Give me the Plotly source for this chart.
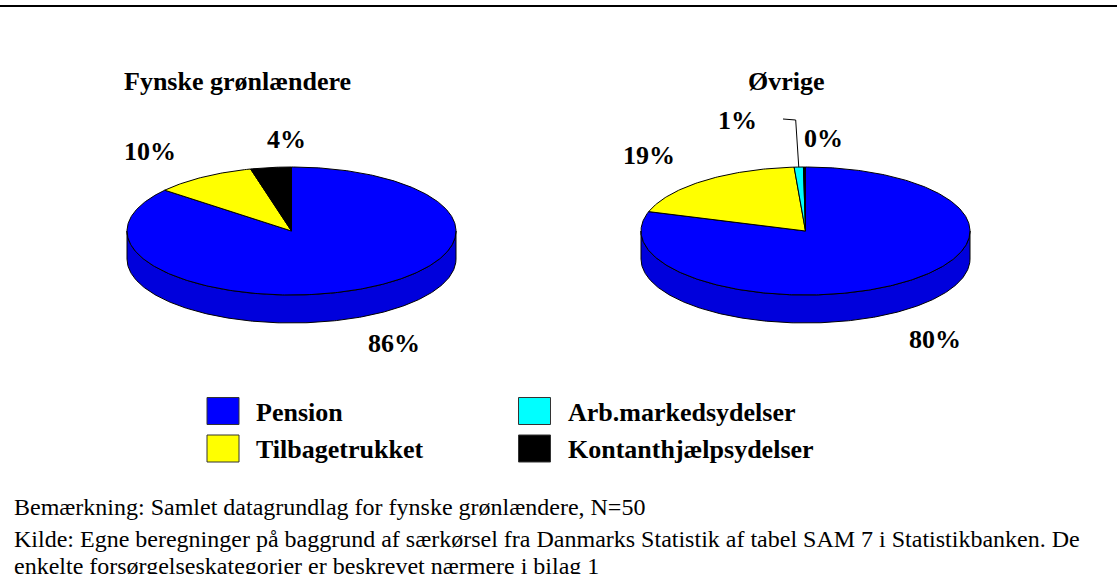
import numpy as np
import plotly.graph_objects as go

# ---------------- data ----------------
categories = ["Pension", "Tilbagetrukket", "Arb.markedsydelser", "Kontanthjælpsydelser"]
colors = ["#0000FF", "#FFFF00", "#00FFFF", "#000000"]
side_colors = ["#0000DC", "#DCDC00", "#00DCDC", "#000000"]
pie_titles = ["Fynske grønlændere", "Øvrige"]
values_fynske = [86.0, 10.0, 0.0, 4.0]
values_ovrige = [79.9, 19.0, 0.9, 0.2]
note_lines = [
    "Bemærkning: Samlet datagrundlag for fynske grønlændere, N=50",
    "Kilde: Egne beregninger på baggrund af særkørsel fra Danmarks Statistik af tabel SAM 7 i Statistikbanken. De",
    "enkelte forsørgelseskategorier er beskrevet nærmere i bilag 1",
]

# ---------------- layout constants (pixel space) ----------------
W, H = 1117, 574
A, B, DEPTH = 164.5, 64.0, 28.0
pie_centers = [(291.5, 231.0), (805.5, 231.0)]
title_pos = [(237.8, 81.0), (786.0, 81.0)]
label_pos = [
    [(394.0, 343.0), (149.5, 151.5), None, (286.7, 139.5)],
    [(935.0, 339.0), (649.0, 155.3), (737.0, 120.0), (823.7, 138.3)],
]
leader_start = (783.0, 119.0)
leader_corner = (795.7, 120.0)
BOLD = dict(family="Liberation Serif", size=26, color="black", weight="bold")
REG = dict(family="Liberation Serif", size=24, color="black")

fig = go.Figure()


def ell(cx, cy, th, dy=0.0):
    return cx + A * np.sin(th), cy - B * np.cos(th) + dy


all_values = [values_fynske, values_ovrige]
annotations = []
shapes = []

for p, vals in enumerate(all_values):
    cx, cy = pie_centers[p]
    v = np.array(vals, dtype=float)
    frac = v / v.sum()
    ends = np.cumsum(frac) * 2 * np.pi
    starts = ends - frac * 2 * np.pi
    # sides (front half visible)
    for i in range(len(v)):
        if frac[i] <= 0:
            continue
        s = max(starts[i], np.pi / 2)
        e = min(ends[i], 3 * np.pi / 2)
        if e <= s:
            continue
        th = np.linspace(s, e, max(3, int((e - s) * 80)))
        xt, yt = ell(cx, cy, th)
        xb, yb = ell(cx, cy, th[::-1], DEPTH)
        fig.add_trace(go.Scatter(
            x=np.concatenate([xt, xb, xt[:1]]), y=np.concatenate([yt, yb, yt[:1]]),
            mode="lines", fill="toself", fillcolor=side_colors[i],
            line=dict(color="black", width=1), hoverinfo="skip", showlegend=False))
    # top slices
    for i in range(len(v)):
        if frac[i] <= 0:
            continue
        th = np.linspace(starts[i], ends[i], max(3, int((ends[i] - starts[i]) * 80)))
        xs, ys = ell(cx, cy, th)
        fig.add_trace(go.Scatter(
            x=np.concatenate([[cx], xs, [cx]]), y=np.concatenate([[cy], ys, [cy]]),
            mode="lines", fill="toself", fillcolor=colors[i],
            line=dict(color="black", width=1), hoverinfo="skip", showlegend=False,
            name=categories[i]))
        lp = label_pos[p][i]
        if lp is not None:
            annotations.append(dict(x=lp[0], y=lp[1], text=f"{round(v[i])}%", showarrow=False,
                                    font=BOLD, xanchor="center", yanchor="middle"))
    # leader line for the small cyan slice on the second pie
    if p == 1:
        mid = (starts[2] + ends[2]) / 2
        ex, ey = ell(cx, cy, mid)
        fig.add_trace(go.Scatter(
            x=[leader_start[0], leader_corner[0], ex], y=[leader_start[1], leader_corner[1], ey],
            mode="lines", line=dict(color="black", width=1), hoverinfo="skip", showlegend=False))
    annotations.append(dict(x=title_pos[p][0], y=title_pos[p][1], text=pie_titles[p], showarrow=False,
                            font=BOLD, xanchor="center", yanchor="middle"))

# legend (2 x 2)
leg_box_x = [207.0, 518.5]
leg_box_y = [397.5, 435.0]
BOX_W, BOX_H = 32.0, 27.0
for i, cat in enumerate(categories):
    col, row = i // 2, i % 2
    x0, y0 = leg_box_x[col], leg_box_y[row]
    shapes.append(dict(type="rect", xref="x", yref="y", x0=x0, x1=x0 + BOX_W, y0=y0, y1=y0 + BOX_H,
                       fillcolor=colors[i], line=dict(color="#333333", width=1)))
    annotations.append(dict(x=x0 + 47, y=y0 + BOX_H / 2 + 1, text=cat, showarrow=False,
                            font=BOLD, xanchor="left", yanchor="middle"))

# top rule
shapes.append(dict(type="line", xref="x", yref="y", x0=0, x1=W, y0=6, y1=6,
                   line=dict(color="black", width=2)))

# notes
note_y = [507.0, 539.0, 566.0]
for t, y in zip(note_lines, note_y):
    annotations.append(dict(x=11.5, y=y, text=t, showarrow=False, font=REG,
                            xanchor="left", yanchor="middle"))

fig.update_layout(
    width=W, height=H, margin=dict(l=0, r=0, t=0, b=0),
    paper_bgcolor="white", plot_bgcolor="white",
    xaxis=dict(range=[0, W], visible=False, fixedrange=True),
    yaxis=dict(range=[H, 0], visible=False, fixedrange=True),
    annotations=annotations, shapes=shapes, showlegend=False,
)

fig.write_html("out.html", config={"displayModeBar": False},
               post_script="document.body.style.margin='0px';document.body.style.overflow='hidden';")
